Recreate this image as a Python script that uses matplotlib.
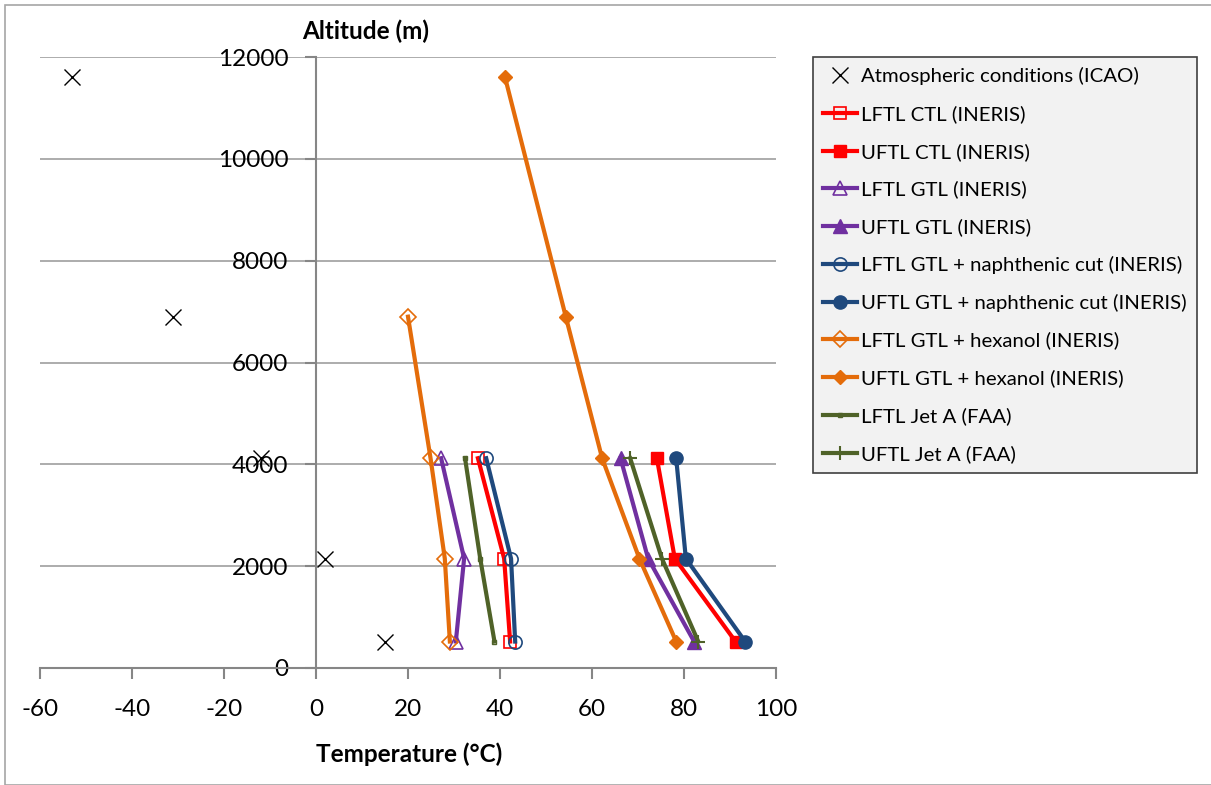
import matplotlib
matplotlib.use("Agg")
import matplotlib.pyplot as plt
from matplotlib.patches import Rectangle

plt.rcParams['font.family'] = ['Lato', 'DejaVu Sans']
plt.rcParams['axes.unicode_minus'] = False

# Altitudes (m)
alt3 = [520, 2150, 4120]
alt4 = [520, 2150, 4120, 6900]
alt5 = [520, 2150, 4120, 6900, 11600]

# ICAO atmosphere temperatures (°C)
icao_temp = [15, 2, -12, -31, -53]

# Flammability limits (°C)
lftl_ctl = [42.2, 40.9, 35.2]
uftl_ctl = [91.2, 78.0, 74.1]
lftl_gtl = [30.4, 32.2, 27.2]
uftl_gtl = [82.2, 72.2, 66.2]
lftl_naph = [43.3, 42.4, 37.0]
uftl_naph = [93.3, 80.4, 78.3]
lftl_hex = [29.1, 28.0, 24.9, 20.0]
uftl_hex = [78.3, 70.3, 62.2, 54.3, 41.1]
lftl_jeta = [38.8, 35.7, 32.4]
uftl_jeta = [83.1, 75.2, 68.3]

RED = "#FF0000"
PURPLE = "#7030A0"
BLUE = "#1F497D"
ORANGE = "#E46C0A"
GREEN = "#4F6228"

fig = plt.figure(figsize=(12.11, 7.85), dpi=100)
W, H = 1211, 785
ax = fig.add_axes([40 / W, (H - 668) / H, (776 - 40) / W, (668 - 57) / H])

lw = 3.0
ms = 8.5
mw = 1.2
ax.plot(icao_temp, alt5, ls="none", marker="x", color="black", ms=12, mew=1.0,
        label="Atmospheric conditions (ICAO)", zorder=5)
ax.plot(lftl_ctl, alt3, color=RED, lw=lw, marker="s", ms=ms, mfc="none", mec=RED,
        mew=mw, label="LFTL CTL (INERIS)")
ax.plot(uftl_ctl, alt3, color=RED, lw=lw, marker="s", ms=ms, mec=RED,
        label="UFTL CTL (INERIS)")
ax.plot(lftl_gtl, alt3, color=PURPLE, lw=lw, marker="^", ms=ms + 1, mfc="none", mec=PURPLE,
        mew=mw, label="LFTL GTL (INERIS)")
ax.plot(uftl_gtl, alt3, color=PURPLE, lw=lw, marker="^", ms=ms + 1, mec=PURPLE,
        label="UFTL GTL (INERIS)")
ax.plot(lftl_naph, alt3, color=BLUE, lw=lw, marker="o", ms=ms + 1, mfc="none", mec=BLUE,
        mew=mw, label="LFTL GTL + naphthenic cut (INERIS)")
ax.plot(uftl_naph, alt3, color=BLUE, lw=lw, marker="o", ms=ms + 1, mec=BLUE,
        label="UFTL GTL + naphthenic cut (INERIS)")
ax.plot(lftl_hex, alt4, color=ORANGE, lw=lw, marker="D", ms=ms, mfc="none", mec=ORANGE,
        mew=mw, label="LFTL GTL + hexanol (INERIS)")
ax.plot(uftl_hex, alt5, color=ORANGE, lw=lw, marker="D", ms=ms - 1, mec=ORANGE,
        label="UFTL GTL + hexanol (INERIS)")
ax.plot(lftl_jeta, alt3, color=GREEN, lw=lw, marker="s", ms=3.5, mfc="none", mec=GREEN,
        mew=1.0, label="LFTL Jet A (FAA)")
ax.plot(uftl_jeta, alt3, color=GREEN, lw=lw, marker="+", ms=10, mew=1.5, mec=GREEN,
        label="UFTL Jet A (FAA)")

ax.set_xlim(-60, 100)
ax.set_ylim(0, 12000)
ax.set_xticks(range(-60, 101, 20))
ax.set_yticks(range(0, 12001, 2000))

# Excel-style axes crossing at zero
ax.spines['left'].set_position(('data', 0))
for s in ['right', 'top']:
    ax.spines[s].set_visible(False)
for s in ['left', 'bottom']:
    ax.spines[s].set_color("#868686")
    ax.spines[s].set_linewidth(1.5)
    ax.spines[s].set_zorder(1)
ax.tick_params(axis='x', direction='out', length=8, width=1.5, color="#868686",
               labelsize=17.5, pad=14)
ax.tick_params(axis='y', direction='out', length=8, width=1.5, color="#868686",
               labelsize=17.5, pad=12)
ax.yaxis.grid(True, color="#A6A6A6", lw=1.3)
ax.set_axisbelow(True)

fig.text(366 / W, 1 - 31 / H, "Altitude (m)", ha="center", va="center",
         fontsize=17.5, fontweight="bold")
fig.text(409 / W, 1 - 754 / H, "Temperature (°C)", ha="center", va="center",
         fontsize=17.5, fontweight="bold")

leg = ax.legend(loc="upper left", bbox_to_anchor=(813 / W, 1 - 57 / H),
                bbox_transform=fig.transFigure, fontsize=14.7, frameon=True,
                fancybox=False, handlelength=1.65, handletextpad=0.2,
                labelspacing=0.97, borderpad=0.5, borderaxespad=0)
leg.get_frame().set_facecolor("#F2F2F2")
leg.get_frame().set_edgecolor("#404040")
leg.get_frame().set_linewidth(1.2)
leg.get_frame().set_alpha(1)

# chart area border
fig.patches.append(Rectangle((5 / W, 0), 1.2, 1 - 5 / H, transform=fig.transFigure,
                             fill=False, edgecolor="#A6A6A6", lw=1.2))

fig.savefig("out.png", dpi=100)
